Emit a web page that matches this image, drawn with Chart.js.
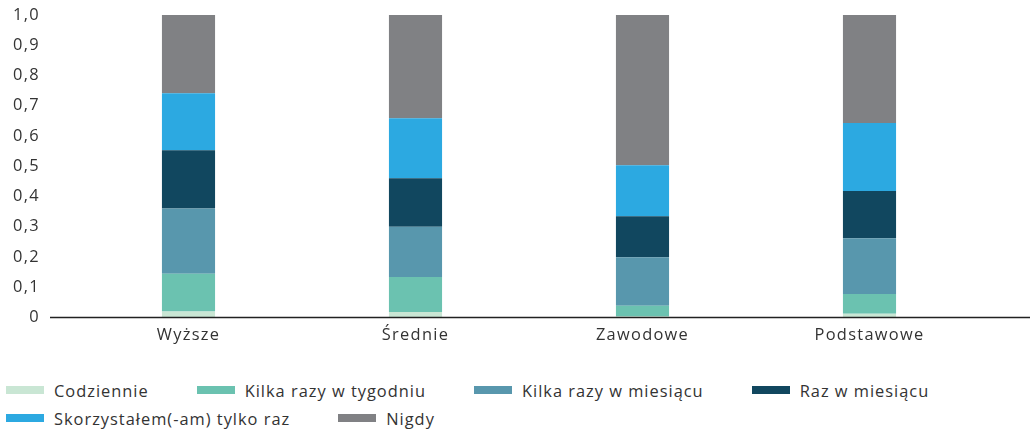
<!DOCTYPE html>
<html>
<head>
<meta charset="utf-8">
<script src="https://cdn.jsdelivr.net/npm/chart.js@4"></script>
<style>
  body { margin: 0; background: #fff; font-family: "Open Sans", sans-serif; }
  #wrap { position: relative; width: 1033px; height: 429px; }
  #legend {
    position: absolute; left: 6px; top: 379px; width: 1025px;
    display: flex; flex-wrap: wrap; column-gap: 48px; row-gap: 6px;
    font-size: 16.4px; letter-spacing: 1px; color: #333;
  }
  .item { display: flex; align-items: center; height: 22px; white-space: nowrap; }
  .sw { width: 38px; height: 7.5px; margin-right: 10px; }
</style>
</head>
<body>
<div id="wrap">
  <canvas id="chart" width="1033" height="370"></canvas>
  <div id="legend"></div>
</div>
<script>
const categories = ["Wyższe", "Średnie", "Zawodowe", "Podstawowe"];
const seriesNames = ["Codziennie", "Kilka razy w tygodniu", "Kilka razy w miesiącu", "Raz w miesiącu", "Skorzystałem(-am) tylko raz", "Nigdy"];
const codziennie = [0.020, 0.018, 0.003, 0.012];
const kilkaTydzien = [0.125, 0.116, 0.036, 0.066];
const kilkaMiesiac = [0.215, 0.166, 0.160, 0.184];
const razMiesiac = [0.193, 0.160, 0.136, 0.156];
const tylkoRaz = [0.188, 0.199, 0.168, 0.225];
const nigdy = [0.259, 0.341, 0.497, 0.357];
const yTickLabels = ["0", "0,1", "0,2", "0,3", "0,4", "0,5", "0,6", "0,7", "0,8", "0,9", "1,0"];
const colors = ["#c9e6d4", "#6bc2b0", "#5897ad", "#11475f", "#2ca9e1", "#808184"];

const values = [codziennie, kilkaTydzien, kilkaMiesiac, razMiesiac, tylkoRaz, nigdy];
const tickFont = { family: "Open Sans", size: 16.4 };

// wider text, closer to the original typeface
const spacing = {
  id: "spacing",
  beforeUpdate(chart) { chart.ctx.letterSpacing = "1.3px"; },
  beforeDraw(chart) { chart.ctx.letterSpacing = "1.3px"; }
};

// baseline runs past the plot area like in the original
const baseline = {
  id: "baseline",
  afterDraw(chart) {
    const { ctx, chartArea, scales } = chart;
    const y = scales.y.getPixelForValue(0);
    ctx.save();
    ctx.strokeStyle = "#222";
    ctx.lineWidth = 1.6;
    ctx.beginPath();
    ctx.moveTo(chartArea.left - 25, y);
    ctx.lineTo(chartArea.right + 47, y);
    ctx.stroke();
    ctx.restore();
  }
};

const chart = new Chart(document.getElementById("chart"), {
  type: "bar",
  data: {
    labels: categories,
    datasets: seriesNames.map((name, i) => ({
      label: name,
      data: values[i],
      backgroundColor: colors[i],
      borderWidth: 0,
      categoryPercentage: 1,
      barPercentage: 0.234
    }))
  },
  options: {
    responsive: false,
    animation: false,
    layout: { padding: { top: 15, right: 50, bottom: 0, left: 0 } },
    plugins: { legend: { display: false }, tooltip: { enabled: false } },
    scales: {
      x: {
        stacked: true,
        afterFit(scale) { scale.height = 52.5; },
        grid: { display: false, drawTicks: false },
        border: { display: false },
        ticks: { color: "#333", padding: 8, font: tickFont }
      },
      y: {
        stacked: true,
        min: 0,
        max: 1,
        afterFit(scale) {
          scale.width = 75;
          scale.paddingTop = 0;
          scale.paddingBottom = 0;
        },
        grid: { display: false, drawTicks: false },
        border: { display: false },
        ticks: {
          stepSize: 0.1,
          padding: 35,
          color: "#333",
          font: tickFont,
          callback: (v, i) => yTickLabels[i]
        }
      }
    }
  },
  plugins: [spacing, baseline]
});

const legend = document.getElementById("legend");
chart.data.datasets.forEach(ds => {
  const item = document.createElement("div");
  item.className = "item";
  item.innerHTML = `<span class="sw" style="background:${ds.backgroundColor}"></span><span>${ds.label}</span>`;
  legend.appendChild(item);
});
</script>
</body>
</html>
